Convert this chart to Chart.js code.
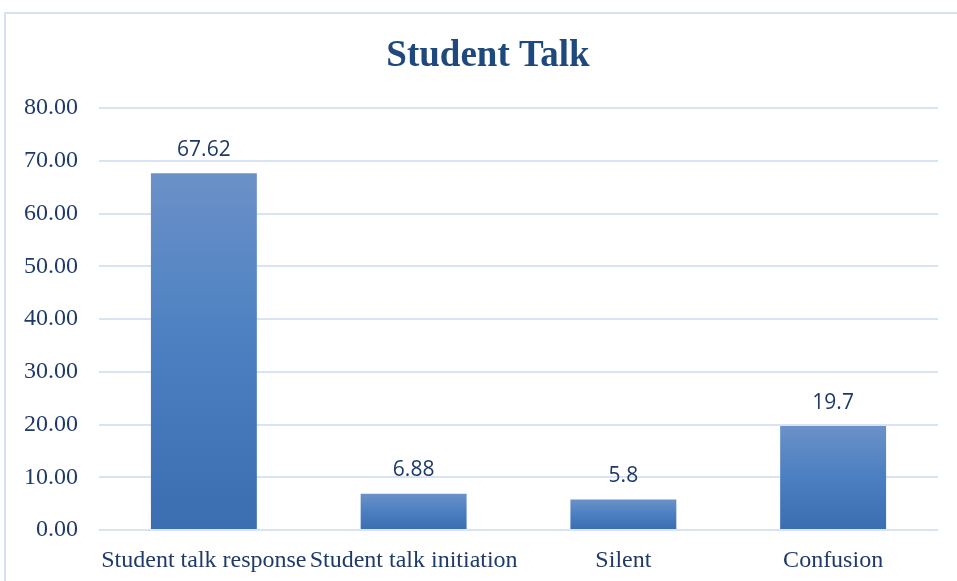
<!DOCTYPE html>
<html>
<head>
<meta charset="utf-8">
<script src="https://cdn.jsdelivr.net/npm/chart.js"></script>
<style>
  html, body { margin: 0; padding: 0; background: #fff; }
  #wrap { position: relative; width: 957px; height: 581px; }
</style>
</head>
<body>
<div id="wrap"><canvas id="chart"></canvas></div>
<script>
// chart data
const categories = ['Student talk response', 'Student talk initiation', 'Silent', 'Confusion'];
const studentTalk = [67.62, 6.88, 5.8, 19.7];
const yTicks = { min: 0, max: 80, step: 10 };

const textBlue = '#1f3a68';

// per-bar vertical gradient, light on top, darker at the base
function barGradient(context) {
    const chart = context.chart;
    const y = chart.scales.y;
    if (!chart.chartArea || !y || !context.parsed) return '#4a7cc0';
    const top = y.getPixelForValue(context.parsed.y);
    const base = y.getPixelForValue(0);
    if (!isFinite(top) || !isFinite(base) || top === base) return '#4a7cc0';
    const g = chart.ctx.createLinearGradient(0, top, 0, base);
    g.addColorStop(0, '#6b91c8');
    g.addColorStop(0.5, '#4a7fc1');
    g.addColorStop(1, '#3b6db1');
    return g;
}

// outer frame + title + value labels
const decorations = {
    id: 'decorations',
    beforeDraw(chart) {
        const ctx = chart.ctx;
        ctx.save();
        ctx.strokeStyle = '#d6e2f0';
        ctx.lineWidth = 2;
        ctx.strokeRect(5, 13, chart.width + 10, chart.height + 10);
        ctx.restore();
    },
    afterDatasetsDraw(chart) {
        const ctx = chart.ctx;
        ctx.save();
        ctx.fillStyle = '#1f497d';
        ctx.font = 'bold 37px "Liberation Serif", "Times New Roman", serif';
        ctx.textAlign = 'center';
        ctx.textBaseline = 'middle';
        ctx.fillText('Student Talk', 488, 56);

        ctx.fillStyle = textBlue;
        ctx.font = '21px "Open Sans", sans-serif';
        ctx.textBaseline = 'bottom';
        chart.getDatasetMeta(0).data.forEach((bar, i) => {
            ctx.fillText(String(studentTalk[i]), bar.x, bar.y - 13);
        });
        ctx.restore();
    }
};

const ctx = document.getElementById('chart');
new Chart(ctx, {
    type: 'bar',
    data: {
        labels: categories,
        datasets: [{
            data: studentTalk,
            backgroundColor: barGradient,
            borderWidth: 0,
            categoryPercentage: 1,
            barPercentage: 0.505
        }]
    },
    options: {
        responsive: true,
        maintainAspectRatio: false,
        animation: false,
        layout: { padding: { top: 108, right: 19, bottom: 0, left: 0 } },
        plugins: {
            legend: { display: false },
            title: { display: false },
            tooltip: { enabled: false }
        },
        scales: {
            x: {
                grid: { display: false },
                border: { display: false },
                ticks: {
                    color: textBlue,
                    font: { family: '"Liberation Serif", "Times New Roman", serif', size: 24 },
                    maxRotation: 0,
                    autoSkip: false,
                    padding: 8
                },
                afterFit(scale) { scale.height = 51; }
            },
            y: {
                min: yTicks.min,
                max: yTicks.max,
                grid: { color: '#d9e4f2', lineWidth: 2, drawTicks: false },
                border: { display: false },
                ticks: {
                    stepSize: yTicks.step,
                    color: textBlue,
                    font: { family: '"Liberation Serif", "Times New Roman", serif', size: 24 },
                    padding: 21,
                    callback: v => Number(v).toFixed(2)
                },
                afterFit(scale) { scale.width = 99; }
            }
        }
    },
    plugins: [decorations]
});
</script>
</body>
</html>
